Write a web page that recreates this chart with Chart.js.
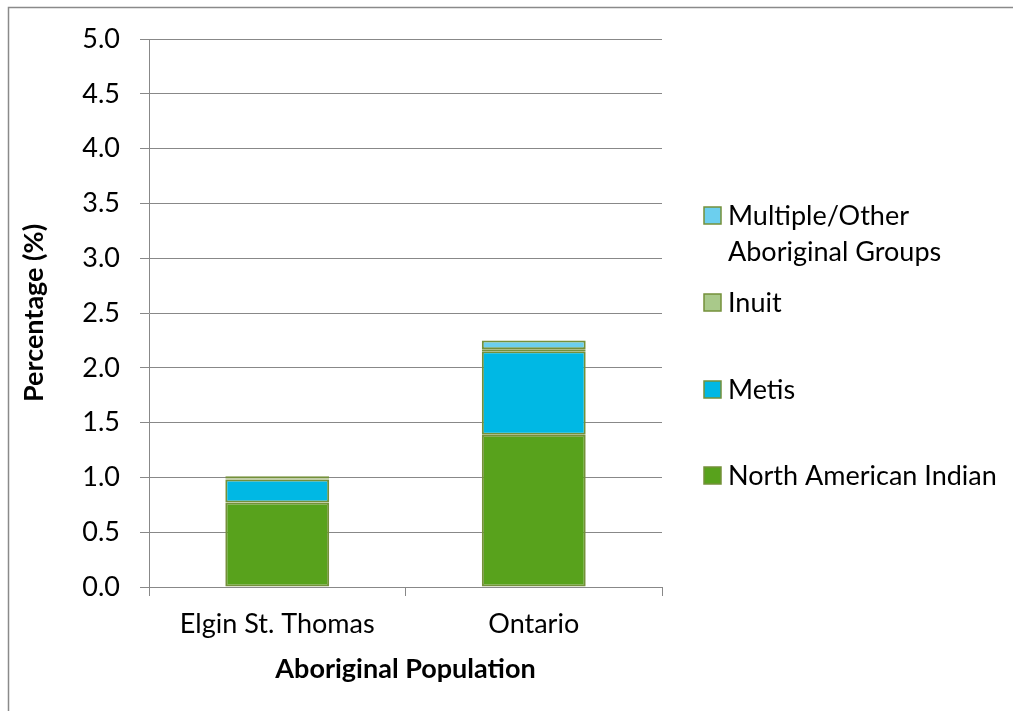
<!DOCTYPE html>
<html>
<head>
<meta charset="utf-8">
<script src="https://cdn.jsdelivr.net/npm/chart.js@4.4.1/dist/chart.umd.min.js"></script>
<style>
  html, body { margin: 0; padding: 0; background: #fff; }
  #chart { display: block; }
</style>
</head>
<body>
<canvas id="chart" width="1013" height="711"></canvas>
<script>
// Aboriginal identity population, share of total (%)
const regions = ["Elgin St. Thomas", "Ontario"];
const northAmericanIndian = [0.77, 1.39];
const metis = [0.21, 0.76];
const inuit = [0.01, 0.02];
const multipleOther = [0.02, 0.08];

const seriesNames = ["North American Indian", "Metis", "Inuit", "Multiple/Other Aboriginal Groups"];
const seriesColors = ["#58a21c", "#00b8e4", "#a9c98a", "#6ccfee"];

const FONT = "Lato, Calibri, 'Open Sans', sans-serif";
const FONT_SIZE = 27;
const GRID = "#888888";
const EDGE = "#74903a";

// frame: top and left rule around the chart
const framePlugin = {
    id: "frame",
    beforeDraw(chart) {
        const ctx = chart.ctx;
        ctx.save();
        ctx.strokeStyle = "#8a8a8a";
        ctx.lineWidth = 1.5;
        ctx.beginPath();
        ctx.moveTo(8.5, chart.height);
        ctx.lineTo(8.5, 7.5);
        ctx.lineTo(chart.width, 7.5);
        ctx.stroke();
        ctx.restore();
    }
};

// legend on the right, top item = last series, long labels wrap to two lines
const sideLegend = {
    id: "sideLegend",
    afterDraw(chart) {
        const ctx = chart.ctx;
        const rows = [[215, 251], [302], [389], [475]];
        const sets = chart.data.datasets.slice().reverse();
        ctx.save();
        ctx.font = FONT_SIZE + "px " + FONT;
        ctx.textBaseline = "middle";
        sets.forEach((ds, i) => {
            const ys = rows[i];
            const words = ds.label.split(" ");
            let lines = [ds.label];
            if (ys.length > 1) {
                lines = [words[0], words.slice(1).join(" ")];
            }
            ctx.fillStyle = ds.backgroundColor;
            ctx.fillRect(704, ys[0] - 8, 17, 17);
            ctx.strokeStyle = EDGE;
            ctx.lineWidth = 1.5;
            ctx.strokeRect(704, ys[0] - 8, 17, 17);
            ctx.fillStyle = "#000";
            lines.forEach((ln, j) => ctx.fillText(ln, 728, ys[j] + 1));
        });
        ctx.restore();
    }
};

const values = [northAmericanIndian, metis, inuit, multipleOther];

const data = {
    labels: regions,
    datasets: seriesNames.map((name, i) => ({
        label: name,
        data: values[i],
        backgroundColor: seriesColors[i],
        borderColor: EDGE,
        borderWidth: 2,
        borderSkipped: false,
        barPercentage: 0.405,
        categoryPercentage: 1
    }))
};

const config = {
    type: "bar",
    data: data,
    options: {
        responsive: false,
        animation: false,
        devicePixelRatio: 1,
        layout: { padding: { left: 10, top: 39, right: 351, bottom: 24 } },
        plugins: {
            legend: { display: false },
            tooltip: { enabled: false }
        },
        scales: {
            x: {
                stacked: true,
                afterFit: s => { s.height = 100; },
                grid: { drawOnChartArea: false, tickLength: 9, color: GRID, offset: true },
                border: { color: GRID, width: 1 },
                ticks: { color: "#000", padding: 12, font: { family: FONT, size: FONT_SIZE } },
                title: {
                    display: true,
                    text: "Aboriginal Population",
                    color: "#000",
                    padding: { top: 0, bottom: 2 },
                    font: { family: FONT, size: FONT_SIZE, weight: "bold" }
                }
            },
            y: {
                stacked: true,
                min: 0,
                max: 5,
                afterFit: s => { s.width = 139; },
                grid: { color: GRID, tickLength: 9 },
                border: { color: GRID, width: 1 },
                ticks: {
                    stepSize: 0.5,
                    color: "#000",
                    padding: 20,
                    font: { family: FONT, size: FONT_SIZE },
                    callback: v => Number(v).toFixed(1)
                },
                title: {
                    display: true,
                    text: "Percentage (%)",
                    color: "#000",
                    padding: { top: 8, bottom: 0 },
                    font: { family: FONT, size: FONT_SIZE, weight: "bold" }
                }
            }
        }
    },
    plugins: [framePlugin, sideLegend]
};

new Chart(document.getElementById("chart"), config);
</script>
</body>
</html>
